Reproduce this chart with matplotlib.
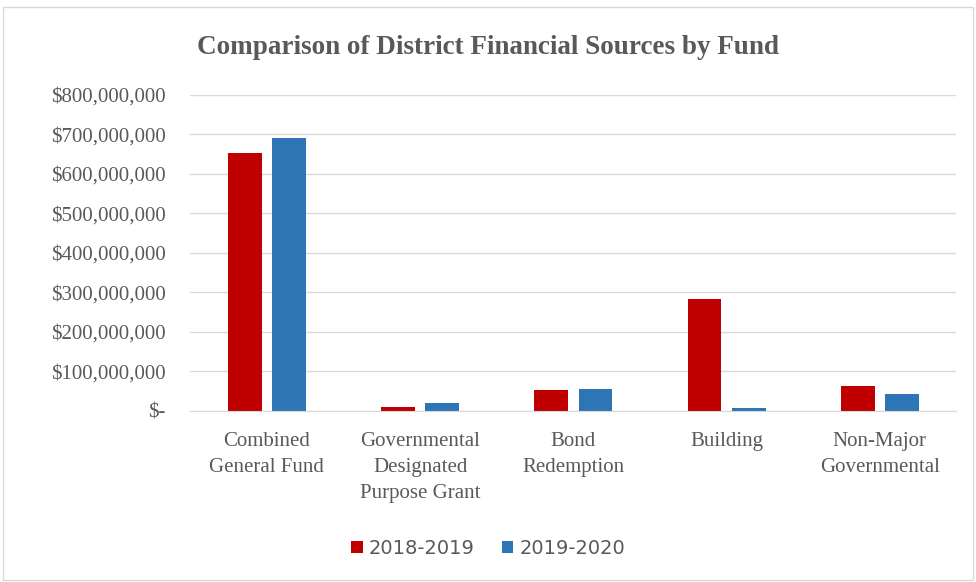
import numpy as np
import matplotlib.pyplot as plt
from matplotlib.patches import Rectangle
from matplotlib.ticker import FuncFormatter

categories = ['Combined\nGeneral Fund', 'Governmental\nDesignated\nPurpose Grant',
              'Bond\nRedemption', 'Building', 'Non-Major\nGovernmental']
fy2019 = [654e6, 11e6, 53e6, 284e6, 63e6]
fy2020 = [692e6, 19e6, 56e6, 7e6, 43e6]
series_names = ['2018-2019', '2019-2020']

red = '#C00000'
blue = '#2E75B6'
text_gray = '#595959'
serif = ['Liberation Serif', 'DejaVu Serif']

fig = plt.figure(figsize=(9.76, 5.82), dpi=100)
ax = fig.add_axes([0.195, 0.294, 0.785, 0.543])

x = np.arange(len(categories))
w = 0.22
ax.bar(x - 0.144, fy2019, w, color=red, label=series_names[0])
ax.bar(x + 0.144, fy2020, w, color=blue, label=series_names[1])

ax.set_xlim(-0.5, len(categories) - 0.5)
ax.set_ylim(0, 800e6)
ax.set_yticks(np.arange(0, 800e6 + 1, 100e6))


def money(v, pos):
    if v == 0:
        return '$-'
    return '${:,.0f}'.format(v)


ax.yaxis.set_major_formatter(FuncFormatter(money))
ax.grid(axis='y', color='#D9D9D9', linewidth=1)
ax.set_axisbelow(True)
for side in ['top', 'right', 'left']:
    ax.spines[side].set_visible(False)
ax.spines['bottom'].set_color('#D9D9D9')
ax.tick_params(length=0)
ax.tick_params(axis='y', pad=18)
ax.tick_params(axis='x', pad=15)

ax.set_xticks(x)
ax.set_xticklabels(categories, linespacing=1.5)
for lbl in ax.get_xticklabels() + ax.get_yticklabels():
    lbl.set_family(serif)
    lbl.set_fontsize(15)
    lbl.set_color(text_gray)

fig.text(0.5, 0.918, 'Comparison of District Financial Sources by Fund',
         ha='center', va='center', fontsize=19.5, fontweight='bold',
         family=serif, color=text_gray)

fig.legend(loc='center', bbox_to_anchor=(0.5, 0.058), ncol=2, frameon=False,
           fontsize=14, handlelength=0.6, handleheight=0.6, handletextpad=0.3,
           columnspacing=1.4, labelcolor=text_gray)

# thin frame around the whole chart
fig.patches.append(Rectangle((0.003, 0.003), 0.994, 0.985, transform=fig.transFigure,
                             fill=False, edgecolor='#D9D9D9', linewidth=1))

fig.savefig('out.png', dpi=100)
